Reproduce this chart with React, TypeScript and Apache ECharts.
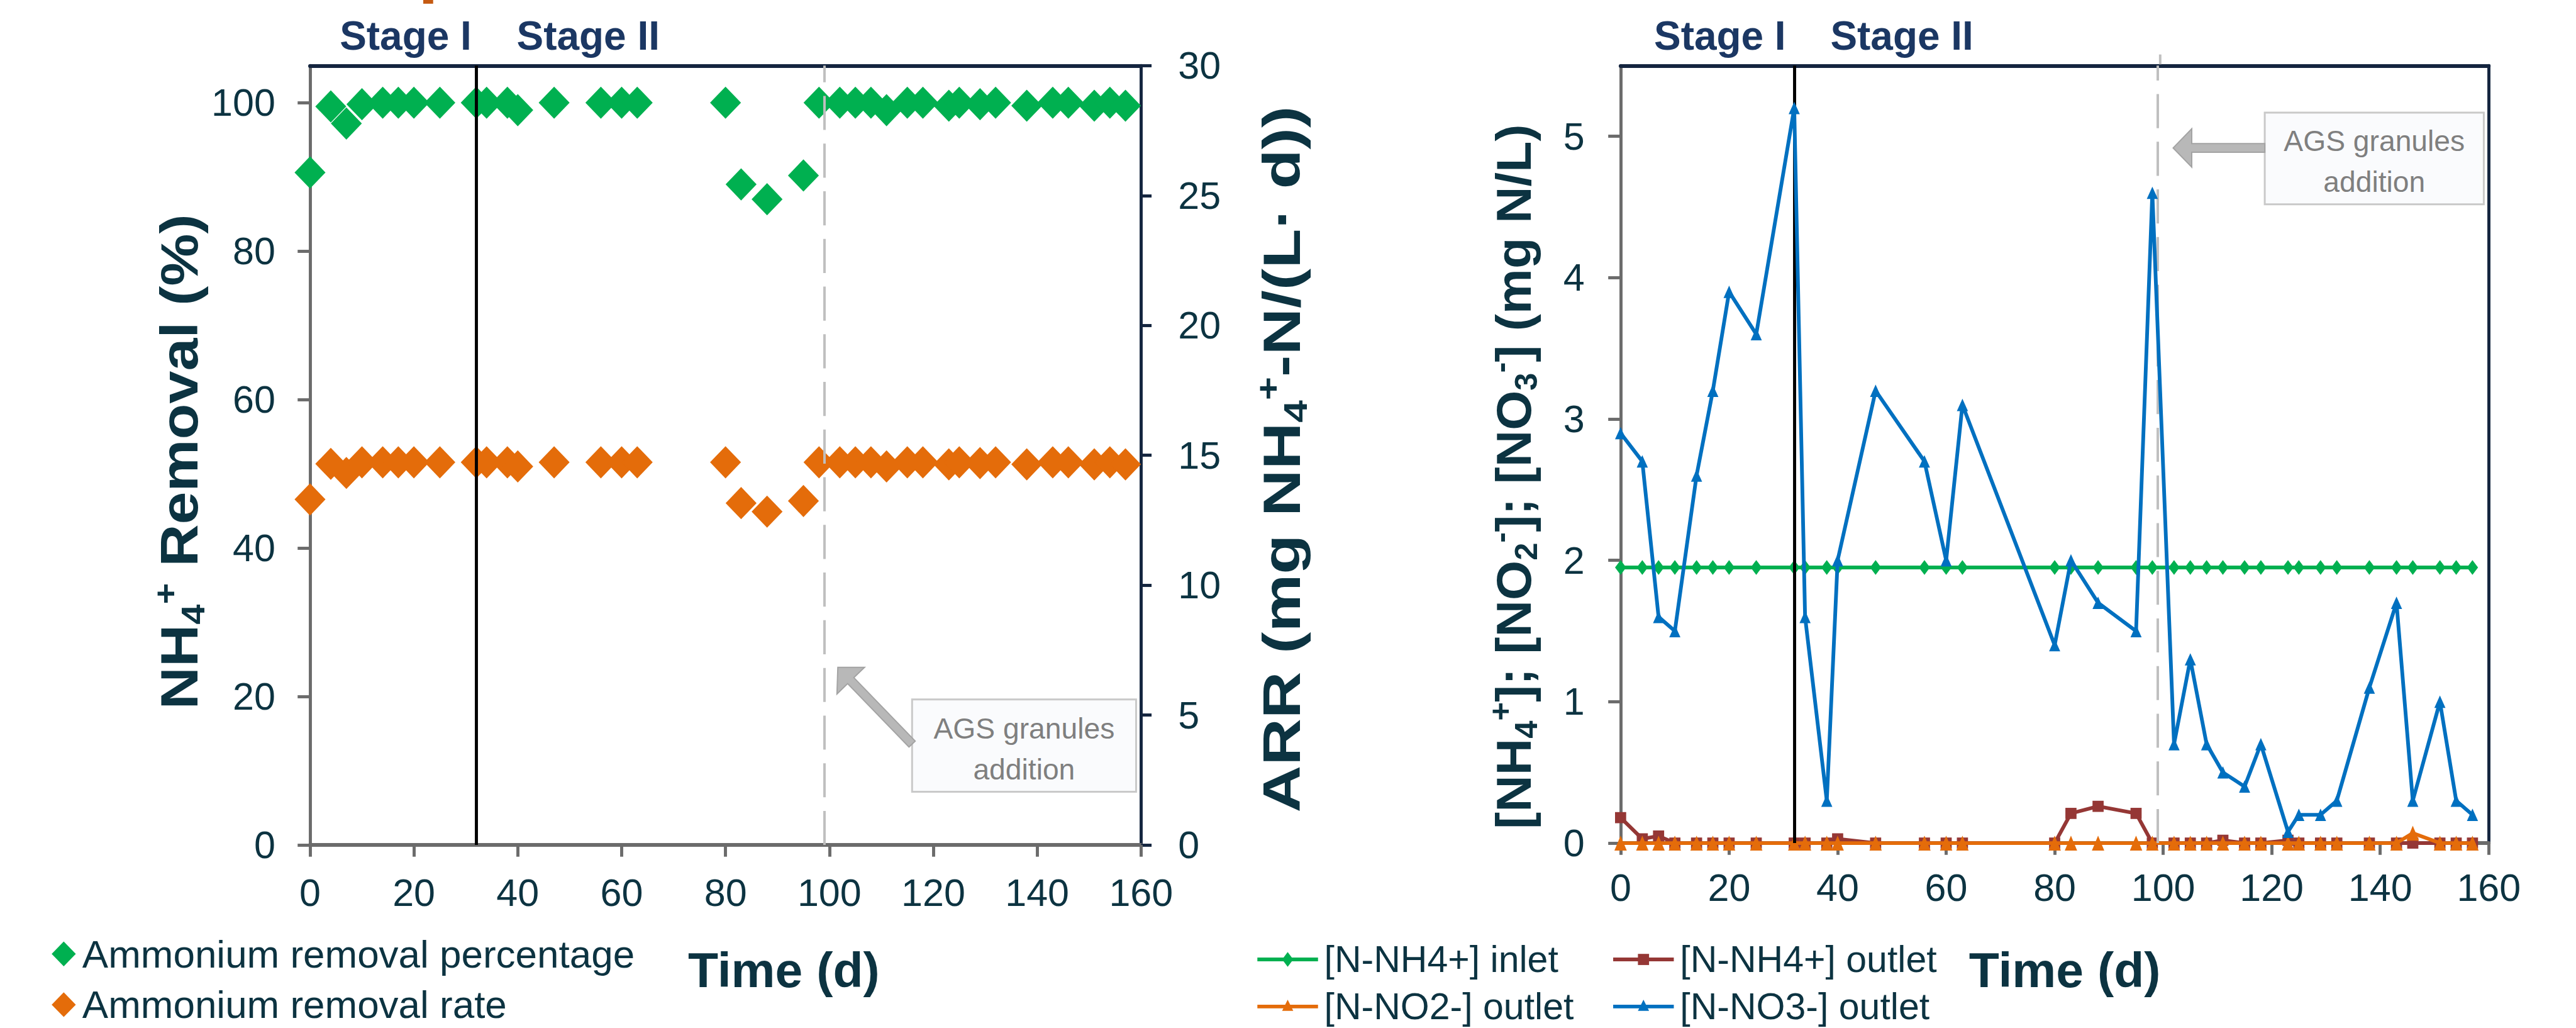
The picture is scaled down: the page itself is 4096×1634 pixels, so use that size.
import React, { useEffect, useRef } from 'react';
import * as echarts from 'echarts';

// ---------- data ----------
const days = [0, 4, 7, 10, 14, 17, 20, 25, 32, 34, 38, 40, 47, 56, 60, 63, 80, 83, 88, 95, 98, 102, 105, 108, 111, 115, 118, 123, 125, 129, 132, 138, 143, 146, 151, 154, 157];
const removalPct = [90.6, 99.5, 97.2, 99.8, 100, 100, 100, 100, 100, 100, 100, 99, 100, 100, 100, 100, 100, 89, 87, 90.2, 100, 100, 100, 100, 99, 100, 100, 99.6, 100, 99.8, 100, 99.6, 100, 100, 99.6, 100, 99.6];
const removalRate = [13.3, 14.67, 14.32, 14.73, 14.73, 14.73, 14.73, 14.73, 14.73, 14.73, 14.73, 14.57, 14.73, 14.73, 14.73, 14.73, 14.73, 13.16, 12.83, 13.24, 14.73, 14.73, 14.73, 14.73, 14.57, 14.73, 14.73, 14.65, 14.73, 14.7, 14.73, 14.65, 14.73, 14.73, 14.65, 14.73, 14.65];
const nh4Inlet = [1.95, 1.95, 1.95, 1.95, 1.95, 1.95, 1.95, 1.95, 1.95, 1.95, 1.95, 1.95, 1.95, 1.95, 1.95, 1.95, 1.95, 1.95, 1.95, 1.95, 1.95, 1.95, 1.95, 1.95, 1.95, 1.95, 1.95, 1.95, 1.95, 1.95, 1.95, 1.95, 1.95, 1.95, 1.95, 1.95, 1.95];
const nh4Outlet = [0.18, 0.03, 0.05, 0, 0, 0, 0, 0, 0, 0, 0, 0.03, 0, 0, 0, 0, 0, 0.21, 0.26, 0.21, 0, 0, 0, 0, 0.02, 0, 0, 0.02, 0, 0, 0, 0, 0, 0, 0, 0, 0];
const no2Outlet = [0, 0, 0, 0, 0, 0, 0, 0, 0, 0, 0, 0, 0, 0, 0, 0, 0, 0, 0, 0, 0, 0, 0, 0, 0, 0, 0, 0, 0, 0, 0, 0, 0, 0.07, 0, 0, 0];
const no3Outlet = [2.9, 2.7, 1.6, 1.5, 2.6, 3.2, 3.9, 3.6, 5.2, 1.6, 0.3, 2.0, 3.2, 2.7, 2.0, 3.1, 1.4, 2.0, 1.7, 1.5, 4.6, 0.7, 1.3, 0.7, 0.5, 0.4, 0.7, 0.08, 0.2, 0.2, 0.3, 1.1, 1.7, 0.3, 1.0, 0.3, 0.2];
const pctTicks = [0, 20, 40, 60, 80, 100];
const concTicks = [0, 1, 2, 3, 4, 5];
const stageBoundary = 32;
const agsDay = 99;

// ---------- layout ----------
const W = 4096;
const H = 1634;
const S = W / 4163;
const p = (v: number) => v * S;
const FONT = '"Liberation Sans", Arial, Helvetica, sans-serif';
const DARK = '#0c3341';
const NAVY = '#14253f';
const GRAY_AXIS = '#6b6b6b';
const GREEN = '#00b050';
const ORANGE = '#e46c0a';
const RED = '#953735';
const BLUE = '#0070c0';
const STAGE = '#1b3763';

const pair = (xs: number[], ys: number[]) => xs.map((x, i) => [x, ys[i]]);

function arrow(tip: number[], tail: number[], head = 30, halfHead = 31, halfShaft = 7) {
  const dx = tip[0] - tail[0];
  const dy = tip[1] - tail[1];
  const len = Math.sqrt(dx * dx + dy * dy);
  const ux = dx / len, uy = dy / len;
  const nx = -uy, ny = ux;
  const bx = tip[0] - ux * head, by = tip[1] - uy * head;
  const pts = [
    [tip[0], tip[1]],
    [bx + nx * halfHead, by + ny * halfHead],
    [bx + nx * halfShaft, by + ny * halfShaft],
    [tail[0] + nx * halfShaft, tail[1] + ny * halfShaft],
    [tail[0] - nx * halfShaft, tail[1] - ny * halfShaft],
    [bx - nx * halfShaft, by - ny * halfShaft],
    [bx - nx * halfHead, by - ny * halfHead],
  ].map((q) => [p(q[0]), p(q[1])]);
  return {
    type: 'polygon', silent: true, z: 50,
    shape: { points: pts },
    style: { fill: '#b8b8b8', stroke: '#a3a3a3', lineWidth: p(2) },
  };
}

function annotationBox(x1: number, y1: number, x2: number, y2: number) {
  return [
    {
      type: 'rect', silent: true, z: 50,
      shape: { x: p(x1), y: p(y1), width: p(x2 - x1), height: p(y2 - y1) },
      style: { fill: '#fafbfd', stroke: '#c9c9c9', lineWidth: p(3) },
    },
    {
      type: 'text', silent: true, z: 51,
      x: p((x1 + x2) / 2), y: p((y1 + y2) / 2 + 5),
      style: {
        text: 'AGS granules\naddition', fontSize: p(47), fontFamily: FONT, fill: '#7f7f7f',
        align: 'center', verticalAlign: 'middle', lineHeight: p(66),
      },
    },
  ];
}

function diamondPts(cx: number, cy: number, w: number, h: number) {
  return [[cx, cy - h / 2], [cx + w / 2, cy], [cx, cy + h / 2], [cx - w / 2, cy]].map((q) => [p(q[0]), p(q[1])]);
}
function trianglePts(cx: number, cy: number, w: number, h: number) {
  return [[cx, cy - h / 2], [cx + w / 2, cy + h / 2], [cx - w / 2, cy + h / 2]].map((q) => [p(q[0]), p(q[1])]);
}

function legendText(x: number, y: number, text: string, fs: number) {
  return {
    type: 'text', silent: true, z: 50, x: p(x), y: p(y),
    style: { text, fontSize: p(fs), fontFamily: FONT, fill: DARK, align: 'left', verticalAlign: 'middle' },
  };
}

function lineLegend(x1: number, x2: number, y: number, color: string, marker: string, label: string) {
  const cx = (x1 + x2) / 2;
  let mk: any;
  if (marker === 'diamond') mk = { type: 'polygon', shape: { points: diamondPts(cx, y, 18, 24) } };
  else if (marker === 'square') mk = { type: 'rect', shape: { x: p(cx - 9), y: p(y - 9), width: p(18), height: p(18) } };
  else mk = { type: 'polygon', shape: { points: trianglePts(cx, y - 2, 18, 18) } };
  mk.style = { fill: color };
  mk.silent = true;
  mk.z = 51;
  return [
    { type: 'line', silent: true, z: 50, shape: { x1: p(x1), y1: p(y), x2: p(x2), y2: p(y) }, style: { stroke: color, lineWidth: p(6) } },
    mk,
    legendText(x2 + 10, y, label, 60),
  ];
}

function rotatedTitle(cx: number, cy: number, rich: string, fs: number, stretch: number) {
  const sub = Math.round(fs * 0.62);
  return {
    type: 'text', silent: true, z: 50, x: p(cx), y: p(cy), rotation: Math.PI / 2, scaleX: stretch, scaleY: 1,
    style: {
      text: rich, align: 'center', verticalAlign: 'middle',
      rich: {
        m: { fontSize: p(fs), fontWeight: 'bold', fontFamily: FONT, fill: DARK, lineHeight: p(fs * 1.15) },
        sub: { fontSize: p(sub), fontWeight: 'bold', fontFamily: FONT, fill: DARK, lineHeight: p(sub), verticalAlign: 'bottom' },
        sup: { fontSize: p(sub), fontWeight: 'bold', fontFamily: FONT, fill: DARK, lineHeight: p(sub), verticalAlign: 'top' },
      },
    },
  };
}

function buildOption(): any {
  const tickLabel = { fontSize: p(62), color: DARK, fontFamily: FONT };
  const xAxisCommon = (grid: number, margin: number) => ({
    type: 'value', gridIndex: grid, min: 0, max: 160, interval: 20, position: 'bottom',
    axisLine: { onZero: false, lineStyle: { color: GRAY_AXIS, width: p(6) } },
    axisTick: { length: p(19), lineStyle: { color: GRAY_AXIS, width: p(5) } },
    axisLabel: { ...tickLabel, margin: p(margin) },
    splitLine: { show: false },
  });
  const topBorder = (grid: number) => ({
    type: 'value', gridIndex: grid, min: 0, max: 160, position: 'top',
    axisLine: { onZero: false, lineStyle: { color: NAVY, width: p(6) } },
    axisTick: { show: false }, axisLabel: { show: false }, splitLine: { show: false },
  });

  const graphic: any[] = [
    // stage labels
    ...[[549, 'Stage I'], [835, 'Stage II'], [2673, 'Stage I'], [2958, 'Stage II']].map(([x, t]) => ({
      type: 'text', silent: true, z: 50, x: p(x as number), y: p(58),
      style: { text: t, fontSize: p(65), fontWeight: 'bold', fontFamily: FONT, fill: STAGE, align: 'left', verticalAlign: 'middle' },
    })),
    // x axis titles
    ...[1112, 3182].map((x) => ({
      type: 'text', silent: true, z: 50, x: p(x), y: p(1567),
      style: { text: 'Time (d)', fontSize: p(80), fontWeight: 'bold', fontFamily: FONT, fill: DARK, align: 'left', verticalAlign: 'middle' },
    })),
    // y axis titles
    rotatedTitle(290, 746, '{m|NH}{sub|4}{sup|+}{m| Removal (%)}', 84, 1.13),
    rotatedTitle(2072, 742, '{m|ARR (mg NH}{sub|4}{sup|+}{m|-N/(L· d))}', 84, 1.25),
    rotatedTitle(2446, 770, '{m|[NH}{sub|4}{sup|+}{m|]; [NO}{sub|2}{sup|-}{m|]; [NO}{sub|3}{sup|-}{m|] (mg N/L)}', 80, 1.03),
    // annotations
    ...annotationBox(1474, 1130, 1836, 1279),
    arrow([1354, 1078], [1474, 1202]),
    ...annotationBox(3660, 182, 4014, 330),
    arrow([3512, 239], [3660, 239]),
    // dashed AGS marker pokes above the right frame
    { type: 'line', silent: true, z: 50, shape: { x1: p(3491), y1: p(88), x2: p(3491), y2: p(104) }, style: { stroke: '#bfbfbf', lineWidth: p(4) } },
    // left legend
    { type: 'polygon', silent: true, z: 51, shape: { points: diamondPts(103, 1541, 39, 40) }, style: { fill: GREEN } },
    legendText(133, 1541, 'Ammonium removal percentage', 63),
    { type: 'polygon', silent: true, z: 51, shape: { points: diamondPts(103, 1623, 39, 40) }, style: { fill: ORANGE } },
    legendText(133, 1623, 'Ammonium removal rate', 63),
    // right legend
    ...lineLegend(2032, 2130, 1550, GREEN, 'diamond', '[N-NH4+] inlet'),
    ...lineLegend(2607, 2705, 1550, RED, 'square', '[N-NH4+] outlet'),
    ...lineLegend(2032, 2130, 1626, ORANGE, 'triangle', '[N-NO2-] outlet'),
    ...lineLegend(2607, 2705, 1626, BLUE, 'triangle', '[N-NO3-] outlet'),
    // cropped orange fragment at the very top
    { type: 'rect', silent: true, z: 50, shape: { x: p(684), y: 0, width: p(16), height: p(6) }, style: { fill: '#c55a11' } },
  ];

  const vLines = () => ({
    symbol: 'none', silent: true, label: { show: false }, animation: false,
    data: [
      { xAxis: stageBoundary, lineStyle: { color: '#000000', width: p(5), type: 'solid' } },
      { xAxis: agsDay, lineStyle: { color: '#bfbfbf', width: p(4), type: [p(55), p(22)] } },
    ],
  });

  return {
    animation: false,
    backgroundColor: '#ffffff',
    grid: [
      { left: p(501), top: p(106), width: p(1844 - 501), height: p(1365 - 106), containLabel: false, outerBoundsMode: 'none' },
      { left: p(2619), top: p(106), width: p(4022 - 2619), height: p(1362 - 106), containLabel: false, outerBoundsMode: 'none' },
    ],
    xAxis: [xAxisCommon(0, 46), xAxisCommon(1, 41), topBorder(0), topBorder(1)],
    yAxis: [
      {
        type: 'value', gridIndex: 0, min: 0, max: 105, position: 'left',
        axisLine: { show: true, onZero: false, lineStyle: { color: GRAY_AXIS, width: p(5) } },
        axisTick: { show: true, length: p(20), customValues: pctTicks, lineStyle: { color: GRAY_AXIS, width: p(5) } },
        axisLabel: { ...tickLabel, margin: p(56), customValues: pctTicks },
        splitLine: { show: false },
      },
      {
        type: 'value', gridIndex: 0, min: 0, max: 30, interval: 5, position: 'right',
        axisLine: { show: true, onZero: false, lineStyle: { color: NAVY, width: p(5) } },
        axisTick: { show: true, length: p(17), lineStyle: { color: NAVY, width: p(5) } },
        axisLabel: { ...tickLabel, margin: p(60) },
        splitLine: { show: false },
      },
      {
        type: 'value', gridIndex: 1, min: 0, max: 5.5, position: 'left',
        axisLine: { show: true, onZero: false, lineStyle: { color: GRAY_AXIS, width: p(5) } },
        axisTick: { show: true, length: p(20), customValues: concTicks, lineStyle: { color: GRAY_AXIS, width: p(5) } },
        axisLabel: { ...tickLabel, margin: p(58), customValues: concTicks },
        splitLine: { show: false },
      },
      {
        type: 'value', gridIndex: 1, min: 0, max: 5.5, position: 'right',
        axisLine: { show: true, onZero: false, lineStyle: { color: NAVY, width: p(5) } },
        axisTick: { show: false }, axisLabel: { show: false }, splitLine: { show: false },
      },
    ],
    series: [
      {
        name: 'Ammonium removal percentage', type: 'scatter', xAxisIndex: 0, yAxisIndex: 0,
        symbol: 'diamond', symbolSize: [p(50), p(52)], itemStyle: { color: GREEN, opacity: 1 },
        data: pair(days, removalPct), z: 2,
      },
      {
        name: 'Ammonium removal rate', type: 'scatter', xAxisIndex: 0, yAxisIndex: 1,
        symbol: 'diamond', symbolSize: [p(50), p(52)], itemStyle: { color: ORANGE, opacity: 1 },
        data: pair(days, removalRate), z: 2,
      },
      { type: 'line', xAxisIndex: 0, yAxisIndex: 0, data: [], z: 5, silent: true, markLine: vLines() },
      { type: 'line', xAxisIndex: 1, yAxisIndex: 2, data: [], z: 1, silent: true, markLine: vLines() },
      {
        name: '[N-NH4+] inlet', type: 'line', xAxisIndex: 1, yAxisIndex: 2, z: 2,
        data: pair(days, nh4Inlet), symbol: 'diamond', symbolSize: [p(18), p(24)], showSymbol: true, showAllSymbol: true,
        lineStyle: { color: GREEN, width: p(6) }, itemStyle: { color: GREEN },
      },
      {
        name: '[N-NH4+] outlet', type: 'line', xAxisIndex: 1, yAxisIndex: 2, z: 3,
        data: pair(days, nh4Outlet), symbol: 'rect', symbolSize: p(18), showSymbol: true, showAllSymbol: true,
        lineStyle: { color: RED, width: p(6) }, itemStyle: { color: RED },
      },
      {
        name: '[N-NO2-] outlet', type: 'line', xAxisIndex: 1, yAxisIndex: 2, z: 4,
        data: pair(days, no2Outlet), symbol: 'triangle', symbolSize: [p(20), p(24)], showSymbol: true, showAllSymbol: true,
        lineStyle: { color: ORANGE, width: p(6) }, itemStyle: { color: ORANGE },
      },
      {
        name: '[N-NO3-] outlet', type: 'line', xAxisIndex: 1, yAxisIndex: 2, z: 5,
        data: pair(days, no3Outlet), symbol: 'triangle', symbolSize: [p(18), p(20)], showSymbol: true, showAllSymbol: true,
        lineStyle: { color: BLUE, width: p(6) }, itemStyle: { color: BLUE },
      },
    ],
    graphic,
  };
}

export default function App() {
  const ref = useRef<HTMLDivElement>(null);
  useEffect(() => {
    if (!ref.current) return;
    const chart = echarts.init(ref.current, null, { renderer: 'svg', width: W, height: H });
    chart.setOption(buildOption());
    return () => chart.dispose();
  }, []);
  return <div ref={ref} style={{ position: 'absolute', left: 0, top: 0, width: W, height: H, background: '#fff' }} />;
}
